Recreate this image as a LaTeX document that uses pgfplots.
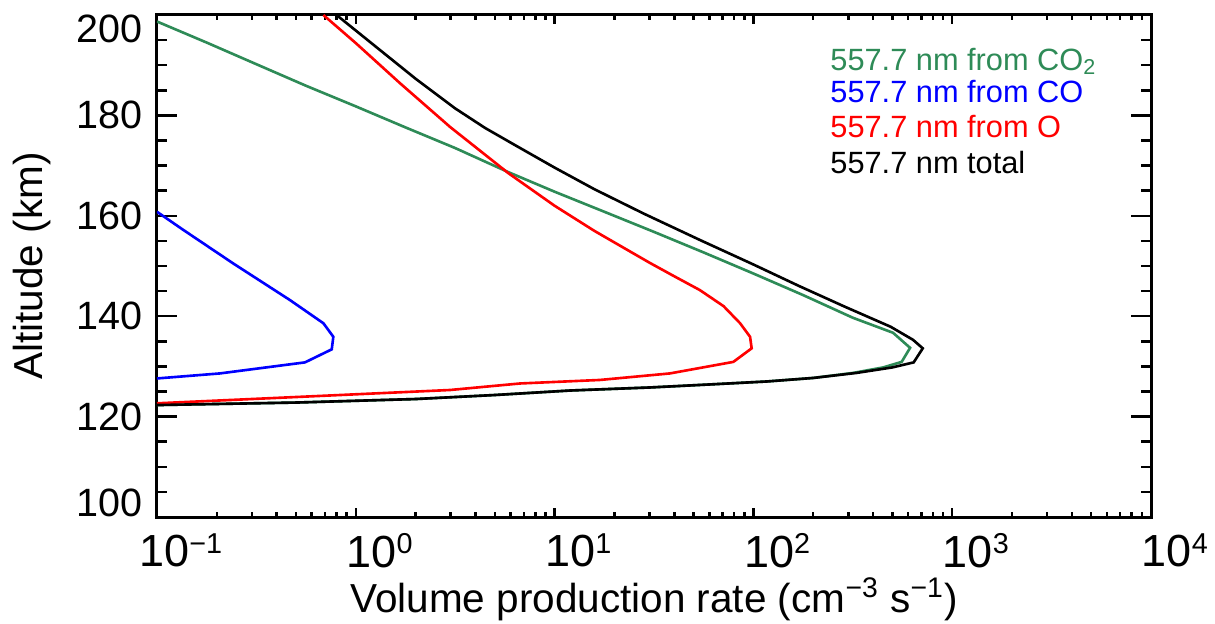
\documentclass[border=0pt]{standalone}
\usepackage{fontspec}
\setmainfont{Liberation Sans}
\usepackage{pgfplots}
\pgfplotsset{compat=1.18}
\definecolor{co2g}{RGB}{46,139,87}
\newcommand\tl[1]{10\raisebox{5.4pt}{\fontsize{11.5pt}{12pt}\selectfont #1}}
\begin{document}
\begin{tikzpicture}
\begin{axis}[
  at={(0,0)}, anchor=south west,
  scale only axis, width=397.6pt, height=200.8pt,
  xmode=log, xmin=0.1, xmax=10000, ymin=100, ymax=200,
  xtick={0.1,1,10,100,1000,10000},
  xticklabels={\tl{−1},\tl{0},\tl{1},\tl{2},\tl{3},\tl{4}},
  minor xtick={0.2,0.3,0.4,0.5,0.6,0.7,0.8,0.9,2,3,4,5,6,7,8,9,20,30,40,50,60,70,80,90,200,300,400,500,600,700,800,900,2000,3000,4000,5000,6000,7000,8000,9000},
  ytick={100,120,140,160,180,200},
  yticklabels={\raisebox{5.6pt}[\height][\depth]{100},120,140,160,180,\raisebox{-5.6pt}[\height][\depth]{200}},
  minor y tick num=3,
  tick align=inside,
  major tick length=8pt, minor tick length=4pt,
  xtick style={/pgfplots/major tick length=3.6pt, /pgfplots/minor tick length=2pt},
  every tick/.style={black, line width=1pt},
  axis line style={line width=1.2pt},
  yticklabel style={font=\fontsize{15.8pt}{16pt}\selectfont, inner sep=0pt, anchor=east, xshift=-5.6pt},
  xticklabel style={font=\fontsize{18pt}{18pt}\selectfont, inner sep=0pt, anchor=north, yshift=-6.4pt, xshift=9.5pt},
  xlabel={Volume production rate (cm\textsuperscript{−3} s\textsuperscript{−1})},
  xlabel style={font=\fontsize{16.2pt}{17pt}\selectfont, at={(axis description cs:0.5,-0.1912)}, anchor=base, inner sep=0pt},
  ylabel={Altitude (km)},
  ylabel style={font=\fontsize{16.2pt}{17pt}\selectfont, at={(axis description cs:-0.1147,0.5)}, anchor=base, inner sep=0pt},
  clip=true,
]
% CO2 (green)
\addplot[co2g, line width=1.05pt] coordinates {
(0.1,122.3) (0.5,122.8) (2,123.5) (5,124.3) (12,125.2) (30,125.8) (60,126.4) (117,127.0) (200,127.7) (317,128.7) (450,129.8) (557,130.9) (614,133.7) (504,136.7) (316,139.7) (178,144.2) (100,148.5) (56.2,152.7) (31.6,156.8) (17.8,160.8) (10,164.8) (5.85,168.7) (3.16,173.5) (1.78,177.6) (1.0,181.8) (0.562,185.9) (0.316,190.2) (0.178,194.5) (0.1,198.7)
};
% CO (blue)
\addplot[blue, line width=1.05pt] coordinates {
(0.1,127.6) (0.207,128.6) (0.555,130.8) (0.757,133.4) (0.771,135.9) (0.687,138.6) (0.467,143.2) (0.242,150.5) (0.1355,157.2) (0.1,160.8)
};
% O (red)
\addplot[red, line width=1.05pt] coordinates {
(0.1,122.65) (0.5,123.9) (2.98,125.3) (6.7,126.6) (16.9,127.3) (38,128.6) (79.3,130.9) (98,133.6) (96.2,135.9) (85.7,138.6) (70.8,142.0) (53.8,145.2) (39.8,148.0) (30.2,150.6) (23,153.3) (15.85,157.0) (10,162.0) (5.85,168.5) (2.98,177.7) (1.67,186.4) (1.0,194.4) (0.687,200)
};
% total (black)
\addplot[black, line width=1.05pt] coordinates {
(0.1,122.3) (0.5,122.8) (2,123.5) (5,124.3) (12,125.2) (30,125.8) (60,126.4) (117,127.0) (200,127.7) (330,128.7) (500,129.8) (640,130.8) (711,133.6) (635,135.3) (490,137.9) (288,141.9) (170,146.0) (100,150.3) (53.7,155.2) (28.2,160.4) (15.85,165.3) (10,169.6) (6.31,174.1) (4.47,177.5) (3.16,181.4) (2.0,187.3) (1.26,193.7) (0.80,200)
};
\node[anchor=base west, inner sep=0pt, font=\fontsize{12.3pt}{13pt}\selectfont, text=co2g] at (rel axis cs:0.677,0.8904) {557.7 nm from CO\textsubscript{2}};
\node[anchor=base west, inner sep=0pt, font=\fontsize{12.3pt}{13pt}\selectfont, text=blue] at (rel axis cs:0.677,0.8247) {557.7 nm from CO};
\node[anchor=base west, inner sep=0pt, font=\fontsize{12.3pt}{13pt}\selectfont, text=red] at (rel axis cs:0.677,0.755) {557.7 nm from O};
\node[anchor=base west, inner sep=0pt, font=\fontsize{12.3pt}{13pt}\selectfont, text=black] at (rel axis cs:0.677,0.685) {557.7 nm total};
\end{axis}
\pgfresetboundingbox
\path[use as bounding box] (-62.8pt,-42.4pt) rectangle (423.2pt,206.8pt);
\end{tikzpicture}
\end{document}
